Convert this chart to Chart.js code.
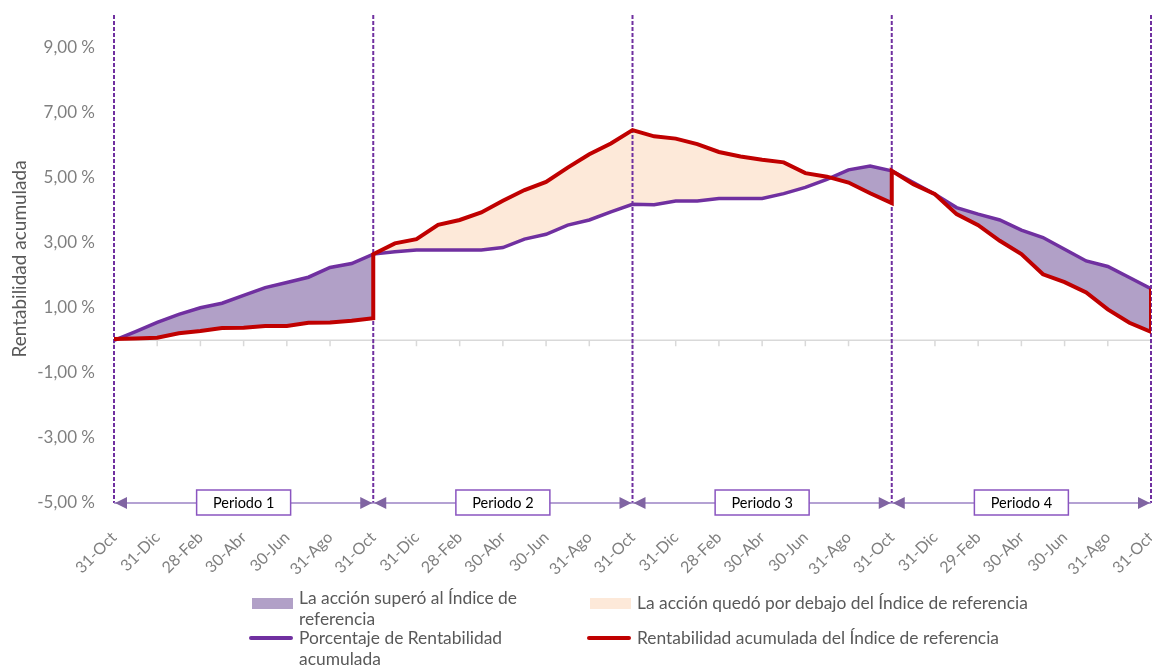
<!DOCTYPE html>
<html>
<head>
<meta charset="utf-8">
<script src="https://cdn.jsdelivr.net/npm/chart.js@4.4.1/dist/chart.umd.min.js"></script>
<style>
  body { margin: 0; background: #fff; }
  #wrap { position: relative; width: 1152px; height: 668px; overflow: hidden; }
  #legend { font-family: Lato, "Liberation Sans", sans-serif; font-size: 17.4px; color: #595959; }
  #legend .sw, #legend .ln, #legend .tx { position: absolute; }
  #legend .tx { line-height: 21px; white-space: nowrap; }
</style>
</head>
<body>
<div id="wrap">
  <canvas id="chart" width="1152" height="668"></canvas>
  <div id="legend">
    <div class="sw" style="left:252px;top:598px;width:41px;height:11px;background:#b1a0c7"></div>
    <div class="tx" style="left:299px;top:587px">La acción superó al Índice de<br>referencia</div>
    <div class="sw" style="left:590px;top:598px;width:41px;height:11px;background:#fde9d9"></div>
    <div class="tx" style="left:637px;top:592px">La acción quedó por debajo del Índice de referencia</div>
    <div class="ln" style="left:249px;top:636px;width:44px;height:4px;background:#7030a0;border-radius:2px"></div>
    <div class="tx" style="left:299px;top:627px">Porcentaje de Rentabilidad<br>acumulada</div>
    <div class="ln" style="left:587px;top:636px;width:44px;height:4px;background:#c00000;border-radius:2px"></div>
    <div class="tx" style="left:637px;top:627px">Rentabilidad acumulada del Índice de referencia</div>
  </div>
</div>
<script>
// etiquetas del eje x (una cada dos meses)
const xLabels = [
  "31-Oct", "31-Dic", "28-Feb", "30-Abr", "30-Jun", "31-Ago",
  "31-Oct", "31-Dic", "28-Feb", "30-Abr", "30-Jun", "31-Ago",
  "31-Oct", "31-Dic", "28-Feb", "30-Abr", "30-Jun", "31-Ago",
  "31-Oct", "31-Dic", "29-Feb", "30-Abr", "30-Jun", "31-Ago",
  "31-Oct"
];
const periodNames = ["Periodo 1", "Periodo 2", "Periodo 3", "Periodo 4"];
const yTicks = [-5, -3, -1, 1, 3, 5, 7, 9];

// rentabilidad acumulada de la acción, mensual (49 valores)
const accion = [
  0, 0.27, 0.55, 0.80, 1.00, 1.14, 1.38, 1.62, 1.78, 1.94, 2.24, 2.36,
  2.65, 2.72, 2.78, 2.78, 2.78, 2.78, 2.85, 3.11, 3.26, 3.54, 3.70, 3.95,
  4.18, 4.17, 4.28, 4.28, 4.36, 4.36, 4.36, 4.51, 4.70, 4.95, 5.24, 5.36,
  5.21, 4.85, 4.49, 4.08, 3.88, 3.70, 3.39, 3.16, 2.80, 2.44, 2.27, 1.93,
  1.59
];

// índice de referencia, por periodo (13 valores cada uno)
const indiceP1 = [0.04, 0.06, 0.08, 0.22, 0.29, 0.38, 0.39, 0.44, 0.44, 0.54, 0.55, 0.60, 0.68];
const indiceP2 = [2.65, 2.98, 3.11, 3.55, 3.70, 3.93, 4.29, 4.62, 4.87, 5.31, 5.72, 6.05, 6.46];
const indiceP3 = [6.46, 6.27, 6.20, 6.03, 5.79, 5.65, 5.55, 5.47, 5.14, 5.03, 4.85, 4.52, 4.22];
const indiceP4 = [5.21, 4.80, 4.49, 3.88, 3.54, 3.06, 2.65, 2.03, 1.79, 1.47, 0.95, 0.54, 0.26];
const indiceCierre = 1.59;

const PURPLE = "#7030a0";
const RED = "#c00000";

const accionPts = accion.map((y, i) => ({ x: i, y }));
const indicePts = [];
[indiceP1, indiceP2, indiceP3, indiceP4].forEach((arr, p) => {
  arr.forEach((y, i) => indicePts.push({ x: p * 12 + i, y }));
});
indicePts.push({ x: 48, y: indiceCierre });

const decor = {
  id: "decor",
  beforeDatasetsDraw(chart) {
    const { ctx, chartArea: a, scales: { x, y } } = chart;
    const y0 = y.getPixelForValue(0);
    ctx.save();
    ctx.strokeStyle = "#d9d9d9";
    ctx.lineWidth = 1.5;
    ctx.beginPath();
    ctx.moveTo(a.left, y0);
    ctx.lineTo(a.right, y0);
    xLabels.forEach((_, i) => {
      const px = x.getPixelForValue(i * 2);
      ctx.moveTo(px, y0);
      ctx.lineTo(px, y0 + 6);
    });
    ctx.stroke();

    ctx.strokeStyle = PURPLE;
    ctx.lineWidth = 2;
    ctx.setLineDash([4, 2]);
    for (let p = 0; p <= periodNames.length; p++) {
      const px = x.getPixelForValue(p * 12);
      ctx.beginPath();
      ctx.moveTo(px, a.top);
      ctx.lineTo(px, a.bottom);
      ctx.stroke();
    }
    ctx.restore();
  },
  afterDatasetsDraw(chart) {
    const { ctx, chartArea: a, scales: { x } } = chart;
    const yb = a.bottom;
    ctx.save();
    periodNames.forEach((name, p) => {
      const xs = x.getPixelForValue(p * 12);
      const xe = x.getPixelForValue(p * 12 + 12);
      ctx.strokeStyle = "#9b82c4";
      ctx.lineWidth = 1.5;
      ctx.beginPath();
      ctx.moveTo(xs, yb);
      ctx.lineTo(xe, yb);
      ctx.stroke();

      ctx.fillStyle = "#8064a2";
      ctx.beginPath();
      ctx.moveTo(xs + 1, yb);
      ctx.lineTo(xs + 13, yb - 6);
      ctx.lineTo(xs + 13, yb + 6);
      ctx.closePath();
      ctx.fill();
      ctx.beginPath();
      ctx.moveTo(xe - 1, yb);
      ctx.lineTo(xe - 13, yb - 6);
      ctx.lineTo(xe - 13, yb + 6);
      ctx.closePath();
      ctx.fill();

      const cx = (xs + xe) / 2;
      ctx.fillStyle = "#fff";
      ctx.fillRect(cx - 47, yb - 13, 94, 25);
      ctx.strokeStyle = "#8a55c0";
      ctx.lineWidth = 1.5;
      ctx.strokeRect(cx - 47, yb - 13, 94, 25);
      ctx.fillStyle = "#000";
      ctx.font = "14.5px Lato, 'Liberation Sans', sans-serif";
      ctx.textAlign = "center";
      ctx.textBaseline = "middle";
      ctx.fillText(name, cx, yb);
    });
    ctx.restore();
  }
};

new Chart(document.getElementById("chart"), {
  type: "line",
  data: {
    datasets: [
      {
        label: "Porcentaje de Rentabilidad acumulada",
        data: accionPts,
        borderColor: PURPLE,
        borderWidth: 3.5,
        pointRadius: 0,
        tension: 0,
        order: 1,
        fill: { target: 1, above: "#b1a0c7", below: "#fde9d9" }
      },
      {
        label: "Rentabilidad acumulada del Índice de referencia",
        data: indicePts,
        borderColor: RED,
        borderWidth: 4,
        pointRadius: 0,
        tension: 0,
        order: 0,
        fill: false
      }
    ]
  },
  options: {
    responsive: false,
    animation: false,
    devicePixelRatio: 1,
    layout: { padding: { top: 15, right: 1, left: 0, bottom: 0 } },
    plugins: {
      legend: { display: false },
      tooltip: { enabled: false },
      filler: { drawTime: "beforeDatasetsDraw" }
    },
    scales: {
      x: {
        type: "linear",
        min: 0,
        max: 48,
        grid: { display: false, drawTicks: false },
        border: { display: false },
        afterBuildTicks: s => { s.ticks = xLabels.map((_, i) => ({ value: i * 2 })); },
        afterFit: s => { s.height = 165; s.paddingLeft = 0; s.paddingRight = 0; },
        ticks: {
          autoSkip: false,
          maxRotation: 45,
          minRotation: 45,
          padding: 25,
          color: "#7f7f7f",
          font: { family: "Lato, 'Liberation Sans', sans-serif", size: 16 },
          callback: v => xLabels[v / 2]
        }
      },
      y: {
        min: -5,
        max: 10,
        grid: { display: false, drawTicks: false },
        border: { display: false },
        afterBuildTicks: s => { s.ticks = yTicks.map(v => ({ value: v })); },
        afterFit: s => { s.width = 114; s.paddingTop = 0; s.paddingBottom = 0; },
        ticks: {
          padding: 19,
          color: "#7f7f7f",
          font: { family: "Lato, 'Liberation Sans', sans-serif", size: 17 },
          callback: v => v.toFixed(2).replace(".", ",") + " %"
        },
        title: {
          display: true,
          text: "Rentabilidad acumulada",
          color: "#595959",
          padding: { top: 8, bottom: 0 },
          font: { family: "Lato, 'Liberation Sans', sans-serif", size: 19 }
        }
      }
    }
  },
  plugins: [decor]
});
</script>
</body>
</html>
